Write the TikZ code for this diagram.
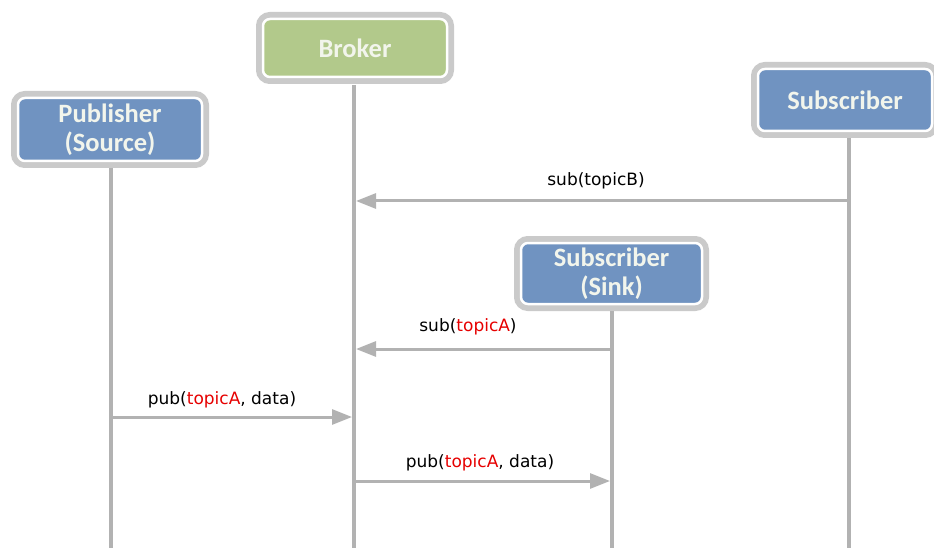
\documentclass[tikz,border=0pt]{standalone}
\usepackage{fontspec}
\setmainfont{DejaVu Sans}
\newfontfamily\boxfont{Carlito}
\usetikzlibrary{arrows.meta}
\definecolor{lifegray}{HTML}{B2B2B2}
\definecolor{framegray}{HTML}{CACACA}
\definecolor{brokergreen}{HTML}{B2C98B}
\definecolor{actorblue}{HTML}{7093C1}
\definecolor{boxtext}{HTML}{F2F5EC}
\definecolor{topicred}{HTML}{E60000}
\tikzset{
  actor/.style={rounded corners=7pt, draw=white, line width=2.5pt,
    preaction={draw=framegray, line width=14pt, rounded corners=7pt},
    text=boxtext, font=\boxfont\bfseries\fontsize{26.5}{29}\selectfont,
    align=center, inner sep=0pt},
  lifeline/.style={draw=lifegray, line width=3.5pt},
  msg/.style={draw=lifegray, line width=3pt,
    -{Triangle[length=20pt,width=15pt]}},
  msglabel/.style={font=\fontsize{17}{20}\selectfont, text=black, inner sep=0pt},
}
\newcommand{\topic}[1]{\textcolor{topicred}{#1}}
\begin{document}
\begin{tikzpicture}[x=1pt,y=-1pt]
  \useasboundingbox (0,0) rectangle (934,548);

  % participants
  \node[actor, fill=brokergreen, minimum width=184pt, minimum height=58pt]
    (broker) at (355,48) {Broker};
  \node[actor, fill=actorblue, minimum width=184pt, minimum height=63pt]
    (pub) at (110,129.5) {Publisher\\(Source)};
  \node[actor, fill=actorblue, minimum width=174pt, minimum height=62pt]
    (sub) at (845,100) {Subscriber};
  \node[actor, fill=actorblue, minimum width=181pt, minimum height=61pt]
    (sink) at (611.5,273.5) {Subscriber\\(Sink)};

  % lifelines, running from each participant to the bottom edge
  \coordinate (brokerEnd) at (354,548);
  \coordinate (pubEnd) at (111,548);
  \coordinate (subEnd) at (849,548);
  \coordinate (sinkEnd) at (612,548);
  \draw[lifeline] (354,85) -- (brokerEnd);
  \draw[lifeline] (111,168) -- (pubEnd);
  \draw[lifeline] (849,138) -- (subEnd);
  \draw[lifeline] (612,311) -- (sinkEnd);

  % messages
  \coordinate (m1s) at (849,201);  \coordinate (m1e) at (356,201);
  \coordinate (m2s) at (612,349);  \coordinate (m2e) at (356,349);
  \coordinate (m3s) at (111,417);  \coordinate (m3e) at (352,417);
  \coordinate (m4s) at (354,481);  \coordinate (m4e) at (610,481);
  \draw[msg] (m1s) -- (m1e);
  \draw[msg] (m2s) -- (m2e);
  \draw[msg] (m3s) -- (m3e);
  \draw[msg] (m4s) -- (m4e);

  \node[msglabel] (l1) at (596,181) {sub(topicB)};
  \node[msglabel] (l2) at (468,327) {sub(\topic{topicA})};
  \node[msglabel] (l3) at (222,400) {pub(\topic{topicA}, data)};
  \node[msglabel] (l4) at (480,463) {pub(\topic{topicA}, data)};
\end{tikzpicture}
\end{document}
